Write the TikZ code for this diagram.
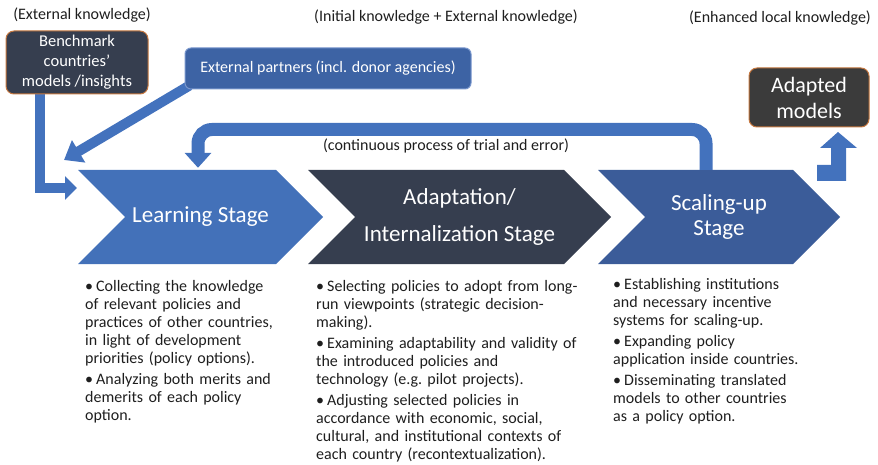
\documentclass[tikz,border=0pt]{standalone}
\usepackage{fontspec}
\setmainfont{Carlito}
\usepackage{tikz}
\usetikzlibrary{arrows.meta,shapes.symbols,positioning,backgrounds}
\definecolor{learnblue}{HTML}{4371B9}
\definecolor{adaptdark}{HTML}{363E4F}
\definecolor{scaleblue}{HTML}{3B5C99}
\definecolor{arrowblue}{HTML}{4372BD}
\definecolor{partnerblue}{HTML}{3D63A4}
\definecolor{partneredge}{HTML}{7896CC}
\definecolor{benchdark}{HTML}{363E4F}
\definecolor{adaptgrey}{HTML}{3B3B3B}
\definecolor{edgeorange}{HTML}{C5773F}
\definecolor{textgrey}{HTML}{1E1E1E}
\tikzstyle{block} =
  [rectangle, draw=edgeorange, line width=1pt, text=white, align=center,
   rounded corners=8pt, inner sep=0pt]
\tikzstyle{stage} =
  [signal, signal to=east, signal from=west, minimum height=94pt,
   text=white, align=center, inner sep=0pt,
   font=\fontsize{23}{25}\selectfont]
\tikzstyle{bullets} =
  [anchor=north west, inner sep=0pt, text width=300pt, text=textgrey,
   font=\fontsize{16}{18}\selectfont\setlength{\parskip}{3pt}]
\tikzstyle{arrow}=[draw=arrowblue,line width=10pt]
\newcommand{\bitem}{\par\noindent\hangindent=11pt\makebox[11pt][l]{\textbullet}}

\begin{document}
\begin{tikzpicture}[x=1pt, y=-1pt, node distance=259pt,
    font=\fontsize{16}{18}\selectfont, text=textgrey]
  \useasboundingbox (0,0) rectangle (878,465);

  \node [] (h1) at (82,15) {(External knowledge)};
  \node [] (h2) at (446,17) {(Initial knowledge + External knowledge)};
  \node [] (h3) at (780,18) {(Enhanced local knowledge)};

  \node [block, fill=benchdark, minimum width=142pt, minimum height=63pt,
    font=\fontsize{16.5}{20}\selectfont] (b) at (77,62.5)
    {Benchmark\\countries’\\models /insights};
  \node [block, fill=partnerblue, draw=partneredge, rounded corners=6pt,
    minimum width=286pt, minimum height=41pt] (p) at (328,68.5)
    {External partners (incl. donor agencies)};
  \node [block, fill=adaptgrey, minimum width=120pt, minimum height=59pt,
    font=\fontsize{22}{26}\selectfont] (m) at (809,97.5) {Adapted\\models};

  \node [stage, fill=learnblue, minimum width=245pt] (l) at (200.5,217)
    {Learning Stage};
  \node [stage, fill=adaptdark, minimum width=303pt, right of=l] (i)
    {Adaptation/\\[12pt]Internalization Stage};
  \node [stage, fill=scaleblue, minimum width=242pt, right of=i,
    node distance=259.5pt] (s) {Scaling-up\\Stage};

  \node [] (t) at (446,146) {(continuous process of trial and error)};

  \node [bullets] (l1) at (85,270)
    {\bitem Collecting the knowledge\\of relevant policies and\\practices of
    other countries,\\in light of development\\priorities (policy options).
    \bitem Analyzing both merits and\\demerits of each policy\\option.};
  \node [bullets] (i1) at (316,270)
    {\bitem Selecting policies to adopt from long-\\run viewpoints (strategic
    decision-\\making).
    \bitem Examining adaptability and validity of\\the introduced policies
    and\\technology (e.g.\ pilot projects).
    \bitem Adjusting selected policies in\\accordance with economic,
    social,\\cultural, and institutional contexts of\\each country
    (recontextualization).};
  \node [bullets] (s1) at (613,268)
    {\bitem Establishing institutions\\and necessary incentive\\systems for
    scaling-up.
    \bitem Expanding policy\\application inside countries.
    \bitem Disseminating translated\\models to other countries\\as a policy
    option.};

  \coordinate (lin) at (77,188);
  \coordinate (ein) at (64,160);

  \begin{scope}[on background layer]
  \draw [arrow, -{Triangle[width=23pt,length=12pt]}]
    ([xshift=-37pt]b.south) |- (lin);
  \draw [arrow, -{Triangle[width=25pt,length=17pt]}]
    ([shift={(5pt,4pt)}]p.south west) to (ein);
  \end{scope}
  \draw [arrow, line width=13pt, rounded corners=14pt, shorten >=2pt,
    -{Triangle[width=26pt,length=15pt]}]
    ([xshift=-13pt]s.north) |- ([yshift=16.5pt]t.center)
    -| ([xshift=-2.5pt]l.north);
  \fill [arrowblue] (817,181) -- (846,181) -- (846,148) -- (857,148)
    -- (838,132) -- (820,148) -- (831,148) -- (831,165) -- (817,165) -- cycle;

\end{tikzpicture}
\end{document}
